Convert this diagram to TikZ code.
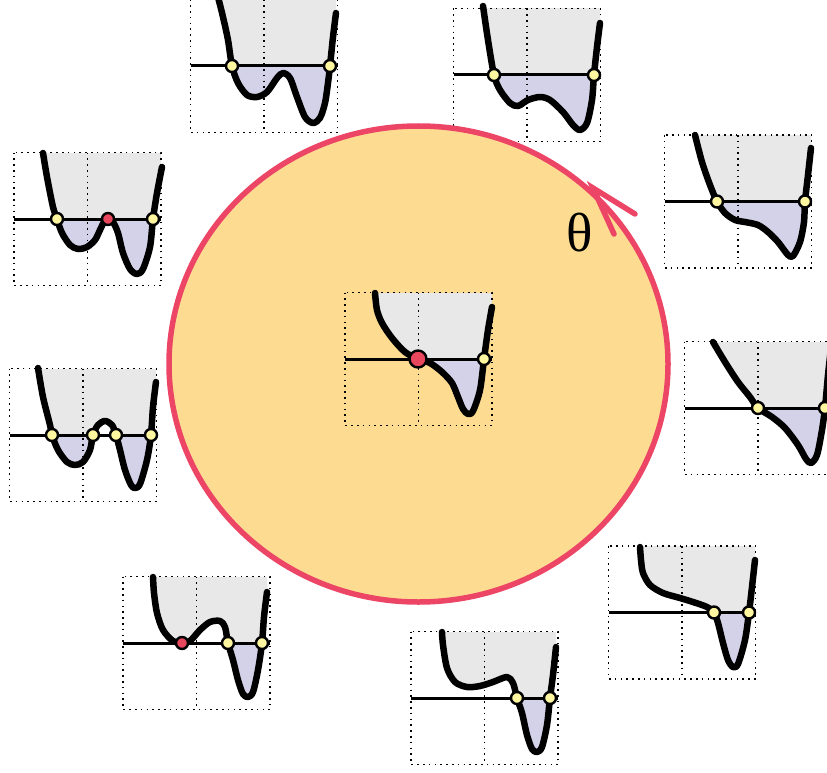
\documentclass[tikz,border=0pt]{standalone}
\usepackage{fontspec}
\newfontfamily\thetafont{Liberation Serif}
\definecolor{ringred}{HTML}{EC4565}
\definecolor{ringfill}{HTML}{FDDC92}
\definecolor{grayfill}{HTML}{E8E8E8}
\definecolor{lavfill}{HTML}{D4D2E8}
\definecolor{ydot}{HTML}{FFF7A0}
\definecolor{rdot}{HTML}{E8475E}
\tikzset{
  gridline/.style={line width=1.6pt, dash pattern=on 1.6pt off 4.2pt, black},
  axisline/.style={line width=3pt, black},
  curveline/.style={line width=6.5pt, black, line cap=round, line join=round},
  ydotstyle/.style={fill=ydot, draw=black, line width=2.4pt},
  rdotstyle/.style={fill=rdot, draw=black, line width=2.4pt},
  ringline/.style={draw=ringred, line width=5.5pt},
}
\newcommand{\fpanel}[3]{%
  \pgfmathsetmacro\pR{#1+147}%
  \pgfmathsetmacro\pB{#2+133}%
  \pgfmathsetmacro\pA{#2+66.5}%
  \pgfmathsetmacro\pV{#1+73.5}%
  \begin{scope}
    \clip (#1,#2) rectangle (\pR,\pB);
    \clip plot[smooth] coordinates {#3} -- ++(0,-80) -- cycle;
    \fill[grayfill] (#1,#2) rectangle (\pR,\pA);
    \fill[lavfill] (#1,\pA) rectangle (\pR,\pB);
  \end{scope}
  \draw[gridline] (#1,#2) rectangle (\pR,\pB);
  \draw[gridline] (\pV,#2) -- (\pV,\pB);
  \draw[axisline] (#1,\pA) -- (\pR,\pA);
  \draw[curveline] plot[smooth] coordinates {#3};
}
\newcommand{\ydotat}[1]{\draw[ydotstyle] (#1,\pA) circle (6);}
\newcommand{\rdotat}[2]{\draw[rdotstyle] (#1,\pA) circle (#2);}
\begin{document}
\begin{tikzpicture}[x=1pt,y=-1pt]
\useasboundingbox (0,0) rectangle (827,773);
% panel B (under the ring)
\fpanel{453.5}{8.5}{(483,6) (488,40) (494,75) (500,90) (510,103) (518,106) (528,100) (540,97) (550,100) (563,112) (573,125) (580,130) (587,123) (592,100) (594,75) (597,47) (600,23)}
\ydotat{494}\ydotat{594}
% ring
\draw[ringline, fill=ringfill] (418.5,364) ellipse [x radius=249.5, y radius=238];
\coordinate (tip) at (593,188);
\coordinate (armA) at (635,214);
\coordinate (armB) at (614,234);
\draw[ringline, line cap=round] (armA) -- (tip) -- (armB);
\node[inner sep=0pt] (theta) at (580,233) {\thetafont\fontsize{55}{55}\selectfont θ};
% panel A
\fpanel{190.5}{-0.5}{(218,-3) (223,17) (228,40) (232,66) (238,83) (247,95) (257,97) (267,92) (277,78) (283,73) (290,78) (297,97) (305,117) (313,123) (320,118) (325,103) (328,83) (330,66) (333,37) (336,13)}
\ydotat{232}\ydotat{330}
% panel C
\fpanel{664.5}{135}{(695,135) (702,162) (710,185) (717,201.5) (725,213) (735,220) (745,222) (758,225) (768,232) (778,242) (788,255) (793,256) (800,242) (804,222) (805,201.5) (808,175) (811,148)}
\ydotat{717}\ydotat{805}
% panel D
\fpanel{684.5}{341.5}{(713,342) (725,362) (738,382) (750,397) (758,408) (772,417) (785,428) (798,445) (806,459) (811,463) (817,455) (822,430) (825,408) (828,375) (831,348)}
\ydotat{758}\ydotat{825}
% panel E
\fpanel{608.5}{546}{(640,547) (641,560) (643,573) (650,585) (663,593) (680,598) (693,602) (707,607) (714,612.5) (718,623) (723,643) (728,660) (733,667) (738,664) (745,640) (749,612.5) (752,587) (755,560)}
\ydotat{714}\ydotat{749}
% panel F
\fpanel{411}{631.5}{(442,632) (443,645) (447,668) (455,682) (467,687) (480,686) (493,682) (507,677) (513,683) (517,698) (522,713) (527,735) (532,749) (537,752) (542,747) (547,725) (550,698) (553,675) (556,647)}
\ydotat{517}\ydotat{550}
% panel G
\fpanel{123}{576.5}{(153,577) (154,593) (157,613) (163,630) (173,641) (182,643) (190,641) (200,630) (210,622) (220,621) (225,627) (228,643) (233,660) (238,680) (243,694) (248,697) (253,692) (258,670) (262,643) (264,617) (267,592)}
\rdotat{182}{6}\ydotat{228}\ydotat{262}
% panel H
\fpanel{9.5}{368.5}{(38,368) (43,397) (50,425) (52,435) (58,450) (67,462) (75,465) (83,462) (90,450) (93,435) (98,425) (105,421) (112,425) (116,435) (120,450) (125,470) (131,485) (135,488) (140,484) (147,460) (151,435) (153,407) (156,382)}
\ydotat{52}\ydotat{93}\ydotat{116}\ydotat{151}
% panel I
\fpanel{14}{152.5}{(43,153) (47,177) (53,207) (57,219) (62,233) (70,245) (78,249) (87,247) (95,240) (100,230) (104,222) (108,219) (113,222) (118,233) (123,253) (130,269) (137,274) (143,269) (150,247) (153,219) (157,193) (162,167)}
\ydotat{57}\rdotat{108}{6}\ydotat{153}
% panel J (centre)
\fpanel{345}{292.5}{(375,293) (377,310) (382,323) (392,338) (405,352) (418,359) (430,363) (442,372) (452,383) (458,397) (463,409) (468,414) (473,411) (480,390) (484,359) (488,330) (492,307)}
\rdotat{418}{8.5}\ydotat{484}
\end{tikzpicture}
\end{document}
